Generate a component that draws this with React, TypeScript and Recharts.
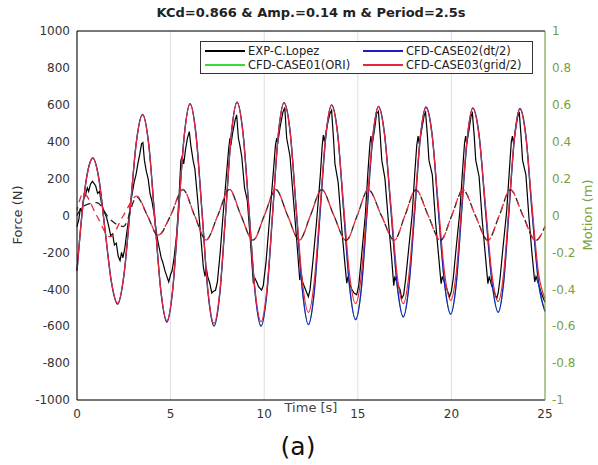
import React from "react";
import { LineChart, Line, XAxis, YAxis, CartesianGrid, ReferenceLine } from "recharts";

const TIME_TICKS = [0, 5, 10, 15, 20, 25];
const FORCE_TICKS = [-1000, -800, -600, -400, -200, 0, 200, 400, 600, 800, 1000];
const MOTION_TICKS = [-1, -0.8, -0.6, -0.4, -0.2, 0, 0.2, 0.4, 0.6, 0.8, 1];

// CFD force, shared time base
const CFD_TIME = [
  0, 0.3, 0.6, 0.84, 1.17, 1.5, 1.84, 2.17, 2.5, 2.84, 3.17, 3.5, 3.83, 4.15, 4.48, 4.8,
  5.11, 5.42, 5.73, 6.04, 6.36, 6.68, 7.0, 7.32, 7.63, 7.94, 8.24, 8.55, 8.87, 9.19, 9.51, 9.83,
  10.14, 10.45, 10.75, 11.06, 11.39, 11.71, 12.04, 12.36, 12.67, 12.98, 13.29, 13.6, 13.92, 14.24,
  14.56, 14.88, 15.19, 15.49, 15.8, 16.1, 16.43, 16.77, 17.1, 17.43, 17.73, 18.04, 18.34, 18.64,
  18.97, 19.3, 19.63, 19.96, 20.26, 20.55, 20.85, 21.14, 21.48, 21.82, 22.16, 22.5, 22.79, 23.08,
  23.37, 23.66, 23.98, 24.3, 24.65, 25,
];
const CASE03_F = [
  -300, 40, 250, 310, 195, -82, -360, -475, -326, 35, 396, 545, 382, -12, -407, -570,
  -399, 17, 433, 604, 430, 10, -411, -585, -410, 14, 437, 612, 439, 19, -402, -575,
  -402, 18, 437, 610, 444, 43, -359, -525, -361, 37, 434, 598, 441, 60,
  -321, -478, -322, 56, 434, 590, 434, 56, -322, -478, -323, 54, 430, 585,
  432, 62, -307, -460, -308, 60, 429, 581, 428, 57, -314, -467, -314, 55,
  425, 578, 425, 60, -310, -450,
];
const CASE02_F = [
  -300, 40, 252, 312, 200, -80, -362, -480, -330, 34, 398, 548, 390, -5, -410, -578,
  -406, 14, 434, 606, 438, 20, -420, -600, -423, 8, 437, 615, 447, 27, -415, -600,
  -424, 8, 435, 612, 452, 30, -405, -592, -418, 4, 425, 600, 449, 30,
  -385, -565, -396, 14, 420, 592, 442, 30, -376, -550, -384, 20, 420, 588,
  440, 30, -365, -535, -370, 24, 418, 583, 436, 30, -355, -525, -364, 28,
  420, 580, 432, 30, -360, -520,
];
const CASE01_F = [
  -300, 40, 252, 312, 199, -80, -362, -480, -330, 34, 398, 547, 388, -6, -410, -577,
  -405, 14, 434, 605, 436, 18, -419, -598, -422, 8, 437, 614, 445, 26, -414, -598,
  -423, 8, 435, 611, 450, 30, -404, -590, -417, 5, 426, 599, 447, 31,
  -384, -562, -394, 15, 421, 591, 440, 31, -375, -548, -382, 21, 420, 587,
  438, 31, -364, -533, -368, 25, 418, 582, 434, 31, -354, -523, -362, 29,
  420, 579, 430, 31, -358, -518,
];

// experiment force (C. Lopez)
const EXP_TIME = [
  0, 0.1, 0.18, 0.25, 0.35, 0.45, 0.55, 0.62, 0.72, 0.82, 0.9, 1.0, 1.1, 1.2, 1.32, 1.45, 1.58,
  1.7, 1.8, 1.9, 2.0, 2.1, 2.2, 2.3, 2.38, 2.45, 2.55, 2.65, 2.75, 2.85, 2.95, 3.05, 3.15, 3.25,
  3.35, 3.45, 3.52, 3.6, 3.7, 3.8, 3.9, 4.0, 4.1, 4.2, 4.3, 4.4, 4.5, 4.6, 4.7, 4.8, 4.9, 5.0,
  5.08, 5.2, 5.33, 5.45, 5.55, 5.62, 5.7, 5.8, 5.9, 6.0, 6.08, 6.2, 6.3, 6.45, 6.6, 6.75, 6.84,
  6.9, 6.98, 7.1, 7.2, 7.3, 7.4, 7.5, 7.65, 7.8, 7.95, 8.1, 8.17, 8.22, 8.3, 8.45, 8.53, 8.62,
  8.7, 8.8, 8.95, 9.1, 9.25, 9.42, 9.5, 9.6, 9.7, 9.86, 9.95, 10.1, 10.3, 10.5, 10.6, 10.67,
  10.72, 10.85, 11.0, 11.1, 11.2, 11.38, 11.55, 11.75, 11.9, 11.97, 12.05, 12.2, 12.36, 12.45,
  12.6, 12.8, 13.0, 13.1, 13.16, 13.22, 13.35, 13.5, 13.6, 13.7, 13.78, 13.95, 14.15, 14.3,
  14.41, 14.48, 14.6, 14.68, 14.8, 14.94, 15.05, 15.2, 15.4, 15.55, 15.65, 15.7, 15.76, 15.9,
  16.0, 16.1, 16.2, 16.28, 16.45, 16.65, 16.8, 16.92, 16.98, 17.1, 17.25, 17.35, 17.45, 17.55,
  17.7, 17.9, 18.05, 18.15, 18.22, 18.28, 18.42, 18.55, 18.62, 18.72, 18.8, 18.98, 19.15, 19.3,
  19.45, 19.52, 19.65, 19.8, 19.9, 20.0, 20.1, 20.25, 20.45, 20.6, 20.7, 20.76, 20.82, 20.95,
  21.05, 21.12, 21.22, 21.3, 21.48, 21.65, 21.8, 21.95, 22.02, 22.15, 22.3, 22.42, 22.5, 22.6,
  22.75, 22.95, 23.1, 23.2, 23.26, 23.32, 23.45, 23.55, 23.63, 23.72, 23.8, 23.98, 24.15, 24.3,
  24.45, 24.52, 24.65, 24.8, 24.92, 25,
];
const EXP_F = [
  -60, -20, 40, 20, 90, 110, 150, 130, 170, 185, 175, 160, 120, 130, 60, 20, -10,
  -60, -110, -100, -160, -150, -220, -245, -200, -230, -180, -100, -30, 60, 120, 180, 220, 280,
  330, 390, 395, 300, 240, 200, 120, 80, 20, -60, -130, -180, -230, -260, -300, -330, -360, -320,
  -300, -220, -95, 100, 300, 320, 280, 360, 420, 455, 380, 300, 250, 80, -100, -280, -330,
  -280, -330, -370, -420, -410, -405, -360, -200, 0, 180, 360, 420, 380, 440, 520, 545, 420,
  380, 320, 150, 80, -120, -367, -340, -360, -386, -404, -380, -250, 0, 250, 380, 420,
  390, 480, 560, 585, 420, 320, 100, -150, -350, -310, -360, -400, -440, -400,
  -250, -30, 220, 380, 436, 400, 480, 550, 570, 420, 280, 180, -80, -250,
  -367, -330, -380, -400, -420, -430, -380, -220, 0, 250, 390, 430, 380, 470,
  550, 565, 430, 300, 200, -50, -220, -380, -330, -370, -400, -450, -430, -350,
  -200, 0, 240, 380, 430, 390, 470, 545, 560, 430, 300, 220, -30, -200,
  -370, -330, -370, -410, -440, -410, -340, -180, 20, 250, 390, 430, 390, 470,
  540, 555, 430, 300, 210, -30, -200, -370, -330, -380, -420, -450, -420, -340,
  -180, 20, 250, 400, 430, 390, 480, 540, 555, 430, 300, 220, -20, -200,
  -360, -330, -370, -420, -450, -470,
];

// motion (right axis, m)
const MOTION_TIME = [
  0, 0.34, 1.05, 1.76, 2.48, 3.19, 3.76, 4.33, 5.0, 5.66, 6.28, 6.9, 7.52, 8.14, 8.76, 9.4,
  10.01, 10.62, 11.25, 11.88, 12.47, 13.07, 13.72, 14.38, 14.97, 15.56, 16.26, 16.95, 17.52,
  18.1, 18.76, 19.42, 20.02, 20.62, 21.28, 21.95, 22.56, 23.15, 23.82, 24.5, 25,
];
const MOTION_CFD = [
  0.03, 0.12, 0.0, -0.115, 0.0, 0.105, 0.0, -0.106, 0.0, 0.142, 0.0, -0.133, 0.0, 0.142, 0.0, -0.135,
  0.0, 0.142, 0.0, -0.134, 0.0, 0.141, 0.0, -0.136, 0.0, 0.141, 0.0, -0.135, 0.0,
  0.14, 0.0, -0.136, 0.0, 0.14, 0.0, -0.135, 0.0, 0.14, 0.0, -0.136, -0.06,
];
const MOTION_EXP = [
  0.0, 0.05, 0.07, -0.02, -0.06, 0.1, 0.0, -0.11, 0.0, 0.14, 0.0, -0.132, 0.0, 0.14, 0.0, -0.134,
  0.0, 0.14, 0.0, -0.133, 0.0, 0.14, 0.0, -0.135, 0.0, 0.14, 0.0, -0.134, 0.0,
  0.139, 0.0, -0.135, 0.0, 0.139, 0.0, -0.134, 0.0, 0.139, 0.0, -0.135, -0.06,
];

const toRows = (t: number[], v: number[]) => t.map((x, i) => ({ t: x, v: v[i] }));

const GREEN_AXIS = "#77a13a";
const FONT = "'DejaVu Sans', sans-serif";

const LEGEND = [
  { name: "EXP-C.Lopez", color: "#000000", x: 205, y: 51 },
  { name: "CFD-CASE01(ORI)", color: "#33dd33", x: 205, y: 65 },
  { name: "CFD-CASE02(dt/2)", color: "#1c1cc8", x: 363, y: 51 },
  { name: "CFD-CASE03(grid/2)", color: "#e8283a", x: 363, y: 65 },
];

export default function App() {
  return (
    <div style={{ position: "absolute", left: 0, top: 0, width: 598, height: 465, background: "#fff", fontFamily: FONT }}>
      <div style={{ position: "absolute", left: 77, width: 468, top: 5, textAlign: "center", fontSize: 13, fontWeight: "bold", color: "#222" }}>
        KCd=0.866 &amp; Amp.=0.14 m &amp; Period=2.5s
      </div>
      <LineChart width={598} height={465} margin={{ top: 31, right: 0, bottom: 0, left: 0 }}>
        <CartesianGrid stroke="#dedede" />
        <XAxis
          dataKey="t" type="number" domain={[0, 25]} ticks={TIME_TICKS} allowDuplicatedCategory={false}
          height={65} tickLine={false} tickSize={0} tickMargin={9}
          axisLine={{ stroke: "#000" }} tick={{ fontSize: 12, fill: "#333", fontFamily: FONT }}
        />
        <YAxis
          yAxisId="left" domain={[-1000, 1000]} ticks={FORCE_TICKS} width={77}
          tickLine={false} tickSize={0} tickMargin={7} axisLine={{ stroke: "#000" }}
          tick={{ fontSize: 12, fill: "#333", fontFamily: FONT }}
        />
        <YAxis
          yAxisId="right" orientation="right" domain={[-1, 1]} ticks={MOTION_TICKS} width={53}
          tickLine={false} tickSize={0} tickMargin={7} axisLine={{ stroke: GREEN_AXIS }}
          tick={{ fontSize: 12, fill: GREEN_AXIS, fontFamily: FONT }}
        />
        <ReferenceLine yAxisId="left" y={1000} stroke="#000" />
        <Line yAxisId="left" data={toRows(EXP_TIME, EXP_F)} dataKey="v" type="linear" stroke="#000" strokeWidth={1.2} dot={false} isAnimationActive={false} />
        <Line yAxisId="left" data={toRows(CFD_TIME, CASE01_F)} dataKey="v" type="monotone" stroke="#33dd33" strokeWidth={1.2} dot={false} isAnimationActive={false} />
        <Line yAxisId="left" data={toRows(CFD_TIME, CASE02_F)} dataKey="v" type="monotone" stroke="#1c1cc8" strokeWidth={1.3} dot={false} isAnimationActive={false} />
        <Line yAxisId="left" data={toRows(CFD_TIME, CASE03_F)} dataKey="v" type="monotone" stroke="#e8283a" strokeWidth={1.2} dot={false} isAnimationActive={false} />
        <Line yAxisId="right" data={toRows(MOTION_TIME, MOTION_EXP)} dataKey="v" type="monotone" stroke="#222" strokeWidth={1.3} strokeDasharray="7 5" dot={false} isAnimationActive={false} />
        <Line yAxisId="right" data={toRows(MOTION_TIME, MOTION_CFD)} dataKey="v" type="monotone" stroke="#e8283a" strokeWidth={1.3} strokeDasharray="7 5" strokeDashoffset={4} dot={false} isAnimationActive={false} />
      </LineChart>
      <div style={{ position: "absolute", left: 200, top: 41, width: 333, height: 33, border: "1px solid #333", background: "#fff", boxSizing: "border-box" }} />
      {LEGEND.map((l) => (
        <div key={l.name} style={{ position: "absolute", left: l.x, top: l.y - 7, height: 14, display: "flex", alignItems: "center", fontSize: 11.5, color: "#222" }}>
          <span style={{ display: "inline-block", width: 40, height: 1.2, background: l.color, marginRight: 3 }} />
          {l.name}
        </div>
      ))}
      <div style={{ position: "absolute", left: 18 - 60, top: 215 - 8, width: 120, height: 16, lineHeight: "16px", textAlign: "center", transform: "rotate(-90deg)", fontSize: 13, color: "#333" }}>Force (N)</div>
      <div style={{ position: "absolute", left: 588 - 60, top: 215 - 8, width: 120, height: 16, lineHeight: "16px", textAlign: "center", transform: "rotate(-90deg)", fontSize: 13, color: GREEN_AXIS }}>Motion (m)</div>
      <div style={{ position: "absolute", left: 77, width: 468, top: 400, textAlign: "center", fontSize: 13, lineHeight: "16px", color: "#444" }}>Time [s]</div>
      <div style={{ position: "absolute", left: 77, width: 442, top: 432, textAlign: "center", fontSize: 25, lineHeight: "30px", color: "#111" }}>(a)</div>
    </div>
  );
}
